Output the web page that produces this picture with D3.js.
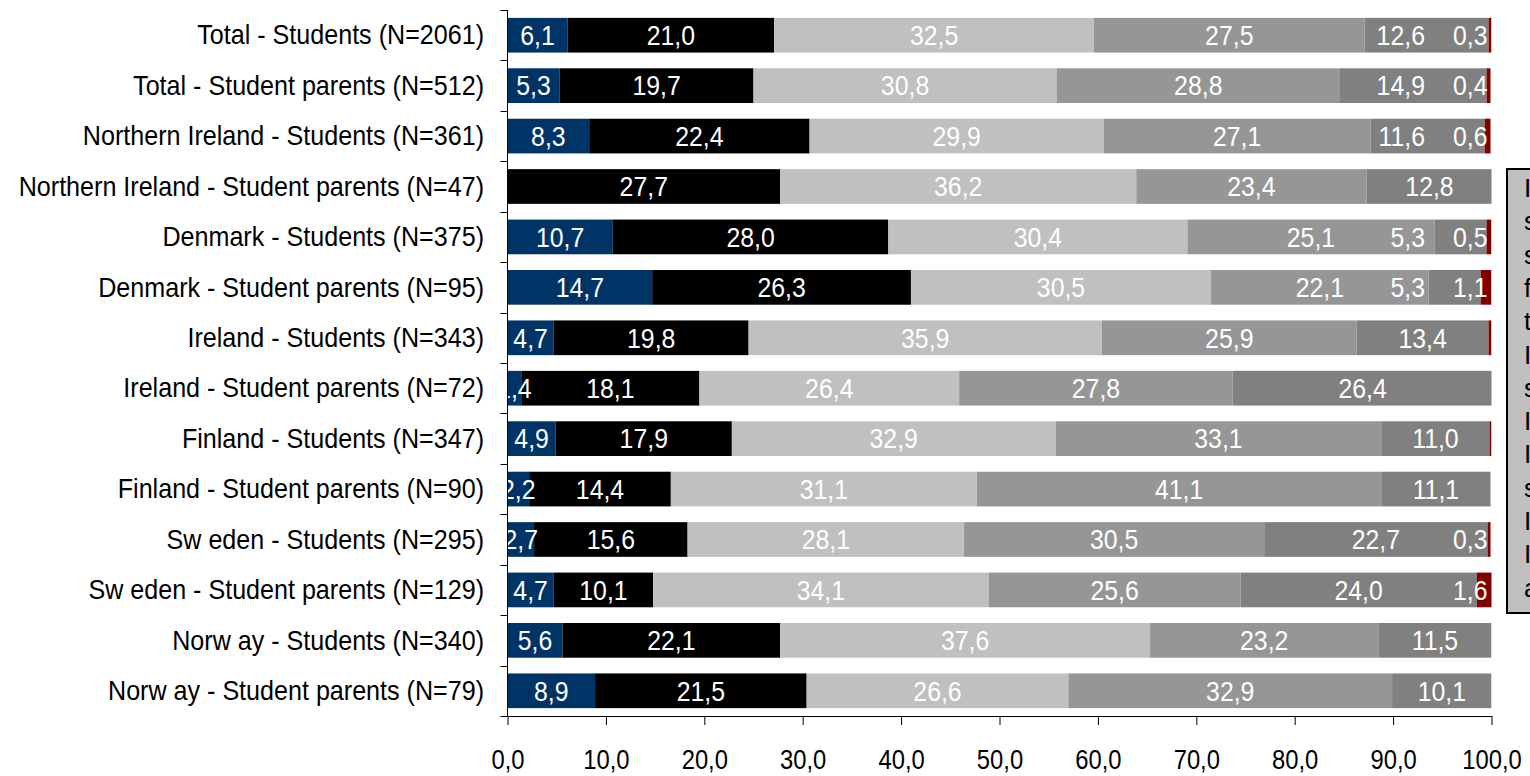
<!DOCTYPE html>
<html><head><meta charset="utf-8">
<script src="https://cdn.jsdelivr.net/npm/d3@7"></script>
<style>
body{margin:0;background:#fff;overflow:hidden;}
svg{display:block;font-family:"Liberation Sans",Arial,sans-serif;}
</style>
</head><body>
<svg id="chart" width="1530" height="776"></svg>
<script>
// ---------- data ----------
const categories = [
  "Total - Students (N=2061)",
  "Total - Student parents (N=512)",
  "Northern Ireland - Students (N=361)",
  "Northern Ireland - Student parents (N=47)",
  "Denmark - Students (N=375)",
  "Denmark - Student parents (N=95)",
  "Ireland - Students (N=343)",
  "Ireland - Student parents (N=72)",
  "Finland - Students (N=347)",
  "Finland - Student parents (N=90)",
  "Sw eden - Students (N=295)",
  "Sw eden - Student parents (N=129)",
  "Norw ay - Students (N=340)",
  "Norw ay - Student parents (N=79)"
];
const seriesNames = ["Series 1","Series 2","Series 3","Series 4","Series 5","Series 6"];
const series1 = [6.1, 5.3, 8.3, 0, 10.7, 14.7, 4.7, 1.4, 4.9, 2.2, 2.7, 4.7, 5.6, 8.9];
const series2 = [21.0, 19.7, 22.4, 27.7, 28.0, 26.3, 19.8, 18.1, 17.9, 14.4, 15.6, 10.1, 22.1, 21.5];
const series3 = [32.5, 30.8, 29.9, 36.2, 30.4, 30.5, 35.9, 26.4, 32.9, 31.1, 28.1, 34.1, 37.6, 26.6];
const series4 = [27.5, 28.8, 27.1, 23.4, 25.1, 22.1, 25.9, 27.8, 33.1, 41.1, 30.5, 25.6, 23.2, 32.9];
const series5 = [12.6, 14.9, 11.6, 12.8, 5.3, 5.3, 13.4, 26.4, 11.0, 11.1, 22.7, 24.0, 11.5, 10.1];
const series6 = [0.3, 0.4, 0.6, 0, 0.5, 1.1, 0.3, 0, 0.2, 0, 0.3, 1.6, 0, 0];
const seriesValues = [series1, series2, series3, series4, series5, series6];
// segments shown without a value label (category index, series index)
const unlabelled = [[6, 5], [8, 5]];
const xTicks = [0, 10, 20, 30, 40, 50, 60, 70, 80, 90, 100];
const noteLines = ["I am in", "serious", "shortage of", "funds most", "the time", "I am often", "short of funds", "I manage", "I have", "sufficient", "I have more", "I don't know", "answer"];

// ---------- styles ----------
const colors = ["#003366", "#000000", "#c0c0c0", "#969696", "#808080", "#800000"];

const svg = d3.select("#chart");
const margin = {left: 507.5, right: 1491.5, top: 10, bottom: 716};

const x = d3.scaleLinear().domain([0, 100]).range([margin.left, margin.right]);
const y = d3.scaleBand().domain(categories).range([margin.top, margin.bottom])
  .paddingInner(0.312).paddingOuter(0.156);

const rows = categories.map((c, i) => {
  const o = {cat: c};
  seriesNames.forEach((s, k) => o[s] = seriesValues[k][i]);
  return o;
});
const stacked = d3.stack().keys(seriesNames)(rows);

svg.append("defs").append("clipPath").attr("id", "plotclip")
  .append("rect").attr("x", x(0)).attr("y", 0).attr("width", x(100) - x(0)).attr("height", 776);

// bars
const gBars = svg.append("g").attr("clip-path", "url(#plotclip)");
stacked.forEach((layer, k) => {
  gBars.append("g").attr("fill", colors[k])
    .selectAll("rect").data(layer).join("rect")
    .attr("x", d => x(d[0]))
    .attr("y", d => y(d.data.cat))
    .attr("width", d => Math.max(0, x(d[1]) - x(d[0])))
    .attr("height", y.bandwidth());
});

// value labels
const fmt = v => d3.format(".1f")(v).replace(".", ",");
const SX = 0.92;
const gLab = svg.append("g").attr("clip-path", "url(#plotclip)");
const isHidden = (i, k) => unlabelled.some(u => u[0] === i && u[1] === k);
categories.forEach((cat, i) => {
  const labels = [];
  const cy = y(cat) + y.bandwidth() / 2;
  stacked.forEach((layer, k) => {
    const d = layer[i];
    const v = seriesValues[k][i];
    if (!(v > 0) || isHidden(i, k)) return;
    const t = gLab.append("text")
      .attr("text-anchor", "middle")
      .attr("dy", "0.36em")
      .attr("font-size", 27)
      .attr("fill", "#ffffff")
      .text(fmt(v));
    const w = t.node().getComputedTextLength() * SX;
    labels.push({t, cx: (x(d[0]) + x(d[1])) / 2, w});
  });
  for (let j = labels.length - 1; j >= 0; j--) {
    const L = labels[j];
    if (j === labels.length - 1) {
      if (L.cx + L.w / 2 > x(100) - 4) L.cx = x(100) - 4 - L.w / 2;
    } else {
      const N = labels[j + 1];
      const nextLeft = N.cx - N.w / 2;
      if (L.cx + L.w / 2 > nextLeft - 20) L.cx = nextLeft - 28 - L.w / 2;
    }
  }
  labels.forEach(L => L.t.attr("transform", `translate(${L.cx},${cy}) scale(${SX},1)`));
});

// y axis (category boundaries ticks)
const gy = svg.append("g").attr("stroke", "#000").attr("stroke-width", 1);
gy.append("line").attr("x1", x(0)).attr("x2", x(0))
  .attr("y1", margin.top).attr("y2", margin.bottom);
d3.range(categories.length + 1).forEach(i => {
  const yy = Math.round(margin.top + i * y.step()) + 0.5;
  gy.append("line").attr("x1", x(0) - 7).attr("x2", x(0)).attr("y1", yy).attr("y2", yy);
});
svg.append("g").selectAll("text").data(categories).join("text")
  .attr("text-anchor", "end")
  .attr("font-size", 27)
  .attr("fill", "#000")
  .attr("dy", "0.34em")
  .attr("transform", d => `translate(484,${y(d) + y.bandwidth() / 2}) scale(0.93,1)`)
  .text(d => d);

// x axis
const gx = svg.append("g").attr("transform", `translate(0,${margin.bottom})`)
  .call(d3.axisBottom(x).tickValues(xTicks).tickSize(9).tickSizeOuter(0)
    .tickFormat(v => fmt(v)));
gx.select(".domain").attr("stroke", "#000");
gx.selectAll(".tick line").attr("stroke", "#000");
gx.selectAll(".tick text")
  .attr("font-size", 28)
  .attr("font-family", "Liberation Sans, Arial, sans-serif")
  .attr("fill", "#000")
  .attr("y", 0).attr("dy", 0)
  .attr("transform", "translate(0,53) scale(0.85,1)");

// note box on the right (partly outside the view)
const gNote = svg.append("g");
gNote.append("rect").attr("x", 1507).attr("y", 169).attr("width", 60).attr("height", 444)
  .attr("fill", "#c0c0c0").attr("stroke", "#000").attr("stroke-width", 2);
gNote.selectAll("text").data(noteLines).join("text")
  .attr("x", 1524)
  .attr("y", (d, i) => 197 + i * 33.3)
  .attr("font-size", 26)
  .attr("fill", "#000")
  .text(d => d);
</script>
</body></html>
